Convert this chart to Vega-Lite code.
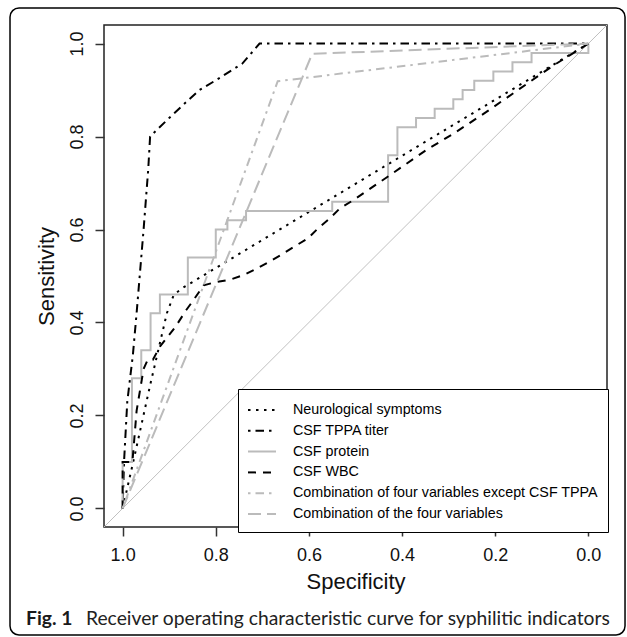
{
  "$schema": "https://vega.github.io/schema/vega-lite/v6.json",
  "width": 503,
  "height": 502,
  "autosize": {"type": "none"},
  "padding": {"left": 104, "top": 25, "right": 20, "bottom": 110},
  "background": "white",
  "config": {"view": {"stroke": "#222222", "strokeWidth": 1.5}, "font": "Liberation Sans"},
  "layer": [
    {
      "data": {"values": [{}]},
      "mark": {"type": "rect", "fill": null, "stroke": "black", "strokeWidth": 1.5, "cornerRadius": 9, "clip": false},
      "encoding": {
        "x": {"datum": 1.2418, "type": "quantitative"},
        "x2": {"datum": -0.0787},
        "y": {"datum": 1.0766, "type": "quantitative"},
        "y2": {"datum": -0.2724}
      }
    },
    {
      "data": {"values": [{}]},
      "mark": {"type": "rule", "color": "#c0c0c0", "strokeWidth": 1},
      "encoding": {
        "x": {"datum": 1.04, "type": "quantitative"},
        "x2": {"datum": -0.04},
        "y": {"datum": -0.04, "type": "quantitative"},
        "y2": {"datum": 1.04}
      }
    },
    {
      "data": {"values": [
        {"series": "Neurological symptoms", "order": 1, "spec": 1, "sens": 0},
        {"series": "Neurological symptoms", "order": 2, "spec": 0.975, "sens": 0.11},
        {"series": "Neurological symptoms", "order": 3, "spec": 0.941, "sens": 0.265},
        {"series": "Neurological symptoms", "order": 4, "spec": 0.905, "sens": 0.42},
        {"series": "Neurological symptoms", "order": 5, "spec": 0.89, "sens": 0.46},
        {"series": "Neurological symptoms", "order": 6, "spec": 0.87, "sens": 0.475},
        {"series": "Neurological symptoms", "order": 7, "spec": 0, "sens": 1},

        {"series": "CSF TPPA titer", "order": 1, "spec": 1, "sens": 0},
        {"series": "CSF TPPA titer", "order": 2, "spec": 0.997, "sens": 0.1},
        {"series": "CSF TPPA titer", "order": 3, "spec": 0.99, "sens": 0.23},
        {"series": "CSF TPPA titer", "order": 4, "spec": 0.978, "sens": 0.33},
        {"series": "CSF TPPA titer", "order": 5, "spec": 0.97, "sens": 0.42},
        {"series": "CSF TPPA titer", "order": 6, "spec": 0.955, "sens": 0.6},
        {"series": "CSF TPPA titer", "order": 7, "spec": 0.945, "sens": 0.73},
        {"series": "CSF TPPA titer", "order": 8, "spec": 0.941, "sens": 0.8},
        {"series": "CSF TPPA titer", "order": 9, "spec": 0.9, "sens": 0.84},
        {"series": "CSF TPPA titer", "order": 10, "spec": 0.867, "sens": 0.871},
        {"series": "CSF TPPA titer", "order": 11, "spec": 0.835, "sens": 0.9},
        {"series": "CSF TPPA titer", "order": 12, "spec": 0.8, "sens": 0.921},
        {"series": "CSF TPPA titer", "order": 13, "spec": 0.743, "sens": 0.957},
        {"series": "CSF TPPA titer", "order": 14, "spec": 0.706, "sens": 1},
        {"series": "CSF TPPA titer", "order": 15, "spec": 0, "sens": 1},

        {"series": "CSF protein", "order": 1, "spec": 1, "sens": 0},
        {"series": "CSF protein", "order": 2, "spec": 1, "sens": 0.1},
        {"series": "CSF protein", "order": 3, "spec": 0.98, "sens": 0.1},
        {"series": "CSF protein", "order": 4, "spec": 0.98, "sens": 0.28},
        {"series": "CSF protein", "order": 5, "spec": 0.96, "sens": 0.28},
        {"series": "CSF protein", "order": 6, "spec": 0.96, "sens": 0.34},
        {"series": "CSF protein", "order": 7, "spec": 0.94, "sens": 0.34},
        {"series": "CSF protein", "order": 8, "spec": 0.94, "sens": 0.42},
        {"series": "CSF protein", "order": 9, "spec": 0.92, "sens": 0.42},
        {"series": "CSF protein", "order": 10, "spec": 0.92, "sens": 0.46},
        {"series": "CSF protein", "order": 11, "spec": 0.86, "sens": 0.46},
        {"series": "CSF protein", "order": 12, "spec": 0.86, "sens": 0.54},
        {"series": "CSF protein", "order": 13, "spec": 0.8, "sens": 0.54},
        {"series": "CSF protein", "order": 14, "spec": 0.8, "sens": 0.6},
        {"series": "CSF protein", "order": 15, "spec": 0.775, "sens": 0.6},
        {"series": "CSF protein", "order": 16, "spec": 0.775, "sens": 0.62},
        {"series": "CSF protein", "order": 17, "spec": 0.735, "sens": 0.62},
        {"series": "CSF protein", "order": 18, "spec": 0.735, "sens": 0.64},
        {"series": "CSF protein", "order": 19, "spec": 0.55, "sens": 0.64},
        {"series": "CSF protein", "order": 20, "spec": 0.55, "sens": 0.66},
        {"series": "CSF protein", "order": 21, "spec": 0.43, "sens": 0.66},
        {"series": "CSF protein", "order": 22, "spec": 0.43, "sens": 0.76},
        {"series": "CSF protein", "order": 23, "spec": 0.41, "sens": 0.76},
        {"series": "CSF protein", "order": 24, "spec": 0.41, "sens": 0.82},
        {"series": "CSF protein", "order": 25, "spec": 0.37, "sens": 0.82},
        {"series": "CSF protein", "order": 26, "spec": 0.37, "sens": 0.84},
        {"series": "CSF protein", "order": 27, "spec": 0.33, "sens": 0.84},
        {"series": "CSF protein", "order": 28, "spec": 0.33, "sens": 0.86},
        {"series": "CSF protein", "order": 29, "spec": 0.29, "sens": 0.86},
        {"series": "CSF protein", "order": 30, "spec": 0.29, "sens": 0.88},
        {"series": "CSF protein", "order": 31, "spec": 0.27, "sens": 0.88},
        {"series": "CSF protein", "order": 32, "spec": 0.27, "sens": 0.9},
        {"series": "CSF protein", "order": 33, "spec": 0.245, "sens": 0.9},
        {"series": "CSF protein", "order": 34, "spec": 0.245, "sens": 0.92},
        {"series": "CSF protein", "order": 35, "spec": 0.204, "sens": 0.92},
        {"series": "CSF protein", "order": 36, "spec": 0.204, "sens": 0.94},
        {"series": "CSF protein", "order": 37, "spec": 0.163, "sens": 0.94},
        {"series": "CSF protein", "order": 38, "spec": 0.163, "sens": 0.96},
        {"series": "CSF protein", "order": 39, "spec": 0.122, "sens": 0.96},
        {"series": "CSF protein", "order": 40, "spec": 0.122, "sens": 0.98},
        {"series": "CSF protein", "order": 41, "spec": 0, "sens": 0.98},
        {"series": "CSF protein", "order": 42, "spec": 0, "sens": 1},

        {"series": "CSF WBC", "order": 1, "spec": 1, "sens": 0},
        {"series": "CSF WBC", "order": 2, "spec": 1, "sens": 0.1},
        {"series": "CSF WBC", "order": 3, "spec": 0.979, "sens": 0.1},
        {"series": "CSF WBC", "order": 4, "spec": 0.97, "sens": 0.21},
        {"series": "CSF WBC", "order": 5, "spec": 0.955, "sens": 0.3},
        {"series": "CSF WBC", "order": 6, "spec": 0.946, "sens": 0.32},
        {"series": "CSF WBC", "order": 7, "spec": 0.935, "sens": 0.32},
        {"series": "CSF WBC", "order": 8, "spec": 0.92, "sens": 0.348},
        {"series": "CSF WBC", "order": 9, "spec": 0.887, "sens": 0.39},
        {"series": "CSF WBC", "order": 10, "spec": 0.864, "sens": 0.426},
        {"series": "CSF WBC", "order": 11, "spec": 0.848, "sens": 0.448},
        {"series": "CSF WBC", "order": 12, "spec": 0.826, "sens": 0.48},
        {"series": "CSF WBC", "order": 13, "spec": 0.8, "sens": 0.487},
        {"series": "CSF WBC", "order": 14, "spec": 0.77, "sens": 0.492},
        {"series": "CSF WBC", "order": 15, "spec": 0.74, "sens": 0.502},
        {"series": "CSF WBC", "order": 16, "spec": 0.712, "sens": 0.516},
        {"series": "CSF WBC", "order": 17, "spec": 0.683, "sens": 0.532},
        {"series": "CSF WBC", "order": 18, "spec": 0.654, "sens": 0.549},
        {"series": "CSF WBC", "order": 19, "spec": 0.627, "sens": 0.566},
        {"series": "CSF WBC", "order": 20, "spec": 0.602, "sens": 0.581},
        {"series": "CSF WBC", "order": 21, "spec": 0.581, "sens": 0.602},
        {"series": "CSF WBC", "order": 22, "spec": 0.555, "sens": 0.624},
        {"series": "CSF WBC", "order": 23, "spec": 0.534, "sens": 0.645},
        {"series": "CSF WBC", "order": 24, "spec": 0.505, "sens": 0.663},
        {"series": "CSF WBC", "order": 25, "spec": 0.426, "sens": 0.717},
        {"series": "CSF WBC", "order": 26, "spec": 0.348, "sens": 0.771},
        {"series": "CSF WBC", "order": 27, "spec": 0.29, "sens": 0.806},
        {"series": "CSF WBC", "order": 28, "spec": 0.219, "sens": 0.853},
        {"series": "CSF WBC", "order": 29, "spec": 0.147, "sens": 0.903},
        {"series": "CSF WBC", "order": 30, "spec": 0.075, "sens": 0.953},
        {"series": "CSF WBC", "order": 31, "spec": 0, "sens": 1},

        {"series": "Combination of four variables except CSF TPPA", "order": 1, "spec": 1, "sens": 0},
        {"series": "Combination of four variables except CSF TPPA", "order": 2, "spec": 0.667, "sens": 0.919},
        {"series": "Combination of four variables except CSF TPPA", "order": 3, "spec": 0, "sens": 1},

        {"series": "Combination of the four variables", "order": 1, "spec": 1, "sens": 0},
        {"series": "Combination of the four variables", "order": 2, "spec": 0.593, "sens": 0.978},
        {"series": "Combination of the four variables", "order": 3, "spec": 0, "sens": 1}
      ]},
      "mark": {"type": "line", "strokeWidth": 2},
      "encoding": {
        "x": {
          "field": "spec", "type": "quantitative",
          "scale": {"domain": [-0.04, 1.04], "reverse": true, "nice": false, "zero": false},
          "axis": {
            "title": "Specificity", "values": [0, 0.2, 0.4, 0.6, 0.8, 1], "format": ".1f",
            "grid": false, "domain": false, "tickSize": 9, "tickWidth": 1.5, "tickColor": "#333333",
            "labelFont": "Liberation Sans", "labelFontSize": 18, "labelColor": "#111111",
            "labelBaseline": "alphabetic", "labelPadding": 24, "labelFlush": false, "labelOverlap": false,
            "titleFont": "Liberation Sans", "titleFontSize": 22, "titleFontWeight": "normal", "titleColor": "#111111",
            "titleBaseline": "alphabetic", "titleX": 251.5, "titleY": 61, "titleAlign": "center"
          }
        },
        "y": {
          "field": "sens", "type": "quantitative",
          "scale": {"domain": [-0.04, 1.04], "nice": false, "zero": false},
          "axis": {
            "title": "Sensitivity", "values": [0, 0.2, 0.4, 0.6, 0.8, 1], "format": ".1f",
            "grid": false, "domain": false, "tickSize": 9, "tickWidth": 1.5, "tickColor": "#333333",
            "labelFont": "Liberation Sans", "labelFontSize": 18, "labelColor": "#111111",
            "labelAngle": 270, "labelAlign": "center", "labelBaseline": "alphabetic", "labelPadding": 13,
            "labelFlush": false, "labelOverlap": false,
            "titleFont": "Liberation Sans", "titleFontSize": 22, "titleFontWeight": "normal", "titleColor": "#111111",
            "titleAngle": 270, "titleBaseline": "alphabetic", "titleX": -50.7, "titleY": 251, "titleAlign": "center"
          }
        },
        "order": {"field": "order", "type": "quantitative"},
        "color": {
          "field": "series", "type": "nominal",
          "scale": {
            "domain": ["Neurological symptoms", "CSF TPPA titer", "CSF protein", "CSF WBC", "Combination of four variables except CSF TPPA", "Combination of the four variables"],
            "range": ["black", "black", "#bbbbbb", "black", "#bbbbbb", "#bbbbbb"]
          },
          "legend": {
            "orient": "none", "legendX": 134, "legendY": 364, "title": null,
            "strokeColor": "black", "fillColor": "white", "padding": 10,
            "symbolType": "M-1.4,0H1.4", "symbolSize": 400, "symbolStrokeWidth": 2, "symbolOffset": 3,
            "labelOffset": 20, "labelFont": "Liberation Sans", "labelFontSize": 14.3, "labelColor": "black",
            "rowPadding": 1.8, "labelLimit": 400
          }
        },
        "strokeDash": {
          "field": "series", "type": "nominal",
          "scale": {
            "domain": ["Neurological symptoms", "CSF TPPA titer", "CSF protein", "CSF WBC", "Combination of four variables except CSF TPPA", "Combination of the four variables"],
            "range": [[2.5, 5.5], [2.5, 5, 8.5, 5], [1, 0], [8, 7], [2.5, 5, 8.5, 5], [13, 6]]
          },
          "legend": {
            "orient": "none", "legendX": 134, "legendY": 364, "title": null,
            "strokeColor": "black", "fillColor": "white", "padding": 10,
            "symbolType": "M-1.4,0H1.4", "symbolSize": 400, "symbolStrokeWidth": 2, "symbolOffset": 3,
            "labelOffset": 20, "labelFont": "Liberation Sans", "labelFontSize": 14.3, "labelColor": "black",
            "rowPadding": 1.8, "labelLimit": 400
          }
        }
      }
    },
    {
      "data": {"values": [{}]},
      "mark": {"type": "text", "text": "Fig. 1", "font": "Lato", "fontWeight": "bold", "fontSize": 19.3, "align": "left", "baseline": "alphabetic", "color": "#1a1a1a"},
      "encoding": {
        "x": {"datum": 1.2075, "type": "quantitative"},
        "y": {"datum": -0.2509, "type": "quantitative"}
      }
    },
    {
      "data": {"values": [{}]},
      "mark": {"type": "text", "text": "Receiver operating characteristic curve for syphilitic indicators", "font": "Lato", "fontSize": 19.3, "align": "left", "baseline": "alphabetic", "color": "#222222"},
      "encoding": {
        "x": {"datum": 1.0787, "type": "quantitative"},
        "y": {"datum": -0.2509, "type": "quantitative"}
      }
    }
  ]
}
